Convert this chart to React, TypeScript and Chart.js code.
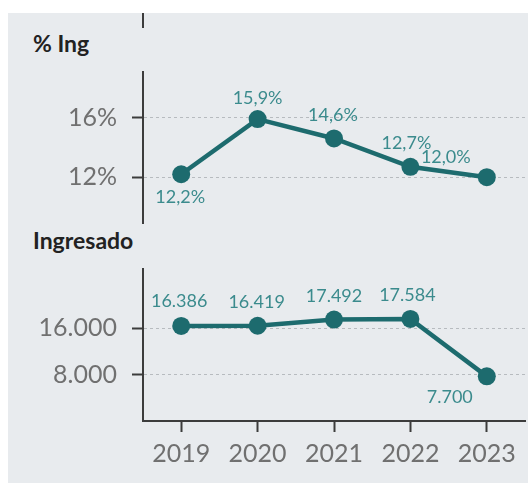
import React, { useEffect, useRef } from 'react';
import { Chart, registerables } from 'chart.js';

Chart.register(...registerables);

// ---- data ----
const years = ['2019', '2020', '2021', '2022', '2023'];
const pctIng = [12.2, 15.9, 14.6, 12.7, 12.0];
const ingresado = [16386, 16419, 17492, 17584, 7700];
const pctTicks = [12, 16];
const ingTicks = [8000, 16000];

// ---- styles ----
const TEAL = '#1d6b6e';
const LABEL = '#3b8b8d';
const AXIS = '#3c3c3c';
const GRID = '#b7bbbf';
const TICKTXT = '#707070';
const BG = '#e8ebee';
const FONT = 'Lato, "Open Sans", sans-serif';

type Place = [number, number];
const pctPlace: Place[] = [[-1, 23], [0, -21], [-1, -23], [-4, -24], [-41, -20]];
const ingPlace: Place[] = [[-2, -25], [-1, -24], [0, -23], [-3, -24], [-37, 21]];

const fmtPct = (v: number) => v.toFixed(1).replace('.', ',') + '%';
const fmtPctTick = (v: number) => Math.round(v) + '%';
const fmtThousands = (v: number) =>
  Math.round(v).toString().replace(/\B(?=(\d{3})+(?!\d))/g, '.');

interface LineProps {
  values: number[];
  ticks: number[];
  min: number;
  max: number;
  showX: boolean;
  tickFmt: (v: number) => string;
  labelFmt: (v: number) => string;
  place: Place[];
  left: number;
  top: number;
  width: number;
  height: number;
  padTop: number;
  padBottom: number;
}

function LineChart(p: LineProps) {
  const ref = useRef<HTMLCanvasElement | null>(null);
  useEffect(() => {
    if (!ref.current) return;
    const labelPlugin = {
      id: 'valueLabels',
      afterDatasetsDraw(chart: any) {
        const ctx = chart.ctx;
        const meta = chart.getDatasetMeta(0);
        ctx.save();
        ctx.font = `18px ${FONT}`;
        ctx.fillStyle = LABEL;
        ctx.textAlign = 'center';
        ctx.textBaseline = 'middle';
        meta.data.forEach((pt: any, i: number) => {
          const [dx, dy] = p.place[i];
          ctx.fillText(p.labelFmt(p.values[i]), pt.x + dx, pt.y + dy);
        });
        ctx.restore();
      },
    };
    const chart = new Chart(ref.current, {
      type: 'line',
      data: {
        labels: years,
        datasets: [
          {
            data: p.values,
            borderColor: TEAL,
            backgroundColor: TEAL,
            borderWidth: 4.5,
            pointRadius: 9,
            pointBorderWidth: 0,
            pointBackgroundColor: TEAL,
            tension: 0,
            clip: false as any,
          },
        ],
      },
      options: {
        animation: false,
        responsive: false,
        layout: {
          autoPadding: false,
          padding: { top: p.padTop, bottom: p.padBottom, left: 0, right: 3 },
        },
        plugins: { legend: { display: false }, tooltip: { enabled: false }, title: { display: false } },
        scales: {
          x: {
            display: p.showX,
            offset: true,
            grid: {
              display: true,
              drawOnChartArea: false,
              drawTicks: true,
              tickLength: 11,
              tickColor: AXIS,
              tickWidth: 2,
              offset: false,
            },
            border: { display: true, color: AXIS, width: 2 },
            ticks: {
              color: TICKTXT,
              font: { family: FONT, size: 25 },
              padding: 7,
              maxRotation: 0,
            },
            afterFit: (s: any) => {
              if (p.showX) s.height = 50;
              s.paddingLeft = 0;
              s.paddingRight = 0;
            },
          },
          y: {
            min: p.min,
            max: p.max,
            afterBuildTicks: (s: any) => {
              s.ticks = p.ticks.map((v) => ({ value: v }));
            },
            afterFit: (s: any) => {
              s.width = 135;
              s.paddingTop = 0;
              s.paddingBottom = 0;
            },
            grid: {
              color: GRID,
              lineWidth: 1,
              drawTicks: true,
              tickLength: 11,
              tickColor: AXIS,
              tickWidth: 2,
            },
            border: { display: true, color: AXIS, width: 2, dash: [3, 3] },
            ticks: {
              color: TICKTXT,
              font: { family: FONT, size: 25 },
              padding: 15,
              callback: (v: any) => p.tickFmt(Number(v)),
            },
          },
        },
      },
      plugins: [labelPlugin],
    } as any);
    return () => chart.destroy();
  }, []);
  return (
    <canvas
      ref={ref}
      width={p.width}
      height={p.height}
      style={{ position: 'absolute', left: p.left, top: p.top, width: p.width, height: p.height }}
    />
  );
}

export default function App() {
  const titleStyle: React.CSSProperties = {
    position: 'absolute',
    left: 33,
    fontFamily: FONT,
    fontWeight: 700,
    fontSize: 23,
    lineHeight: '23px',
    color: '#222',
    whiteSpace: 'nowrap',
  };
  return (
    <div>
      <div style={{ position: 'absolute', left: 8, top: 13, width: 520, height: 470, background: BG }} />
      <div style={{ position: 'absolute', left: 142, top: 13, width: 2, height: 15, background: AXIS }} />
      <div style={{ ...titleStyle, top: 32 }}>% Ing</div>
      <div style={{ ...titleStyle, top: 229 }}>Ingresado</div>
      <LineChart
        values={pctIng}
        ticks={pctTicks}
        min={8.93}
        max={19.06}
        showX={false}
        tickFmt={fmtPctTick}
        labelFmt={fmtPct}
        place={pctPlace}
        left={8}
        top={60}
        width={520}
        height={175}
        padTop={12}
        padBottom={12}
      />
      <LineChart
        values={ingresado}
        ticks={ingTicks}
        min={0}
        max={26200}
        showX={true}
        tickFmt={fmtThousands}
        labelFmt={fmtThousands}
        place={ingPlace}
        left={8}
        top={256}
        width={520}
        height={215}
        padTop={13}
        padBottom={0}
      />
    </div>
  );
}
